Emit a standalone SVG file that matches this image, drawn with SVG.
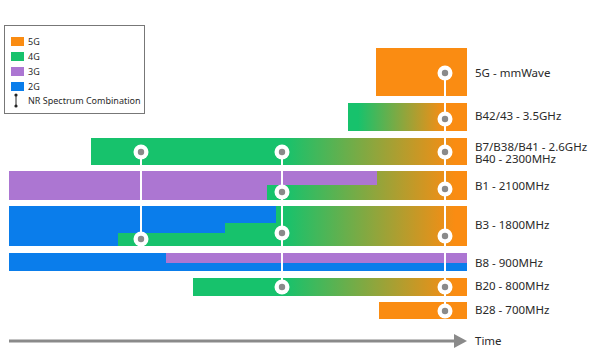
<svg xmlns="http://www.w3.org/2000/svg" width="592" height="359" viewBox="0 0 592 359">
<defs>
<linearGradient id="g1" gradientUnits="userSpaceOnUse" x1="285" y1="0" x2="455" y2="0">
<stop offset="0" stop-color="#17C26C"/><stop offset="1" stop-color="#FA8C12"/>
</linearGradient>
<linearGradient id="g2" gradientUnits="userSpaceOnUse" x1="358" y1="0" x2="445" y2="0">
<stop offset="0" stop-color="#17C26C"/><stop offset="1" stop-color="#FA8C12"/>
</linearGradient>
<g id="mk"><circle r="7.5" fill="#fff"/><circle r="3.2" fill="#8A8A8A"/></g>
</defs>
<style>
.o{fill:#FA8C12}.gr{fill:#17C26C}.p{fill:#AC76D2}.b{fill:#0A7DEB}
.t{font-family:"Noto Sans","DejaVu Sans",sans-serif;font-size:11.5px;fill:#2a2a2a}
.lt{font-family:"Noto Sans","DejaVu Sans",sans-serif;font-size:9px;fill:#2a2a2a}
.vl{stroke:#fff;stroke-width:2;fill:none}
</style>
<rect width="592" height="359" fill="#fff"/>
<g id="legend">
<rect x="4.5" y="25.5" width="140" height="88" fill="#fff" stroke="#777" stroke-width="1"/>
<rect class="o" x="11" y="37" width="13" height="9"/>
<rect class="gr" x="11" y="52" width="13" height="9"/>
<rect class="p" x="11" y="67" width="13" height="9"/>
<rect class="b" x="11" y="82" width="13" height="9"/>
<line x1="16" y1="95" x2="16" y2="106" stroke="#222" stroke-width="1"/>
<circle cx="16" cy="95" r="1.6" fill="#222"/><circle cx="16" cy="106" r="1.6" fill="#222"/>
<text class="lt" x="28" y="45">5G</text>
<text class="lt" x="28" y="60">4G</text>
<text class="lt" x="28" y="75">3G</text>
<text class="lt" x="28" y="90">2G</text>
<text class="lt" x="28" y="104">NR Spectrum Combination</text>
</g>
<g id="bar-5g">
<rect class="o" x="376" y="48" width="91" height="48"/>
<text class="t" x="475" y="77">5G - mmWave</text>
</g>
<g id="bar-b42">
<rect fill="url(#g2)" x="348" y="103" width="97" height="28"/>
<rect class="o" x="445" y="103" width="22" height="28"/>
<text class="t" x="475" y="120">B42/43 - 3.5GHz</text>
</g>
<g id="bar-b7">
<rect fill="url(#g1)" x="91" y="138" width="376" height="27"/>
<text class="t" x="475" y="150.5">B7/B38/B41 - 2.6GHz</text>
<text class="t" x="475" y="162.5">B40 - 2300MHz</text>
</g>
<g id="bar-b1">
<rect fill="url(#g1)" x="9" y="171" width="458" height="29"/>
<rect class="p" x="9" y="171" width="258" height="29"/>
<rect class="p" x="267" y="171" width="110" height="14"/>
<text class="t" x="475" y="190">B1 - 2100MHz</text>
</g>
<g id="bar-b3">
<rect fill="url(#g1)" x="9" y="206" width="458" height="40"/>
<path class="b" d="M9 206H276V223H225V233H118V246H9Z"/>
<text class="t" x="475" y="229">B3 - 1800MHz</text>
</g>
<g id="bar-b8">
<rect class="b" x="9" y="253" width="458" height="18"/>
<rect class="p" x="166" y="253" width="301" height="10"/>
<text class="t" x="475" y="267">B8 - 900MHz</text>
</g>
<g id="bar-b20">
<rect fill="url(#g1)" x="193" y="278" width="274" height="18"/>
<text class="t" x="475" y="290">B20 - 800MHz</text>
</g>
<g id="bar-b28">
<rect class="o" x="379" y="302" width="88" height="17"/>
<text class="t" x="475" y="314">B28 - 700MHz</text>
</g>
<g id="connectors">
<line class="vl" x1="141" y1="151" x2="141" y2="238"/>
<line class="vl" x1="282" y1="151" x2="282" y2="287"/>
<line class="vl" x1="445" y1="73" x2="445" y2="311"/>
</g>
<g id="markers">
<use href="#mk" x="445" y="73"/>
<use href="#mk" x="445" y="119"/>
<use href="#mk" x="141" y="152"/>
<use href="#mk" x="282" y="152"/>
<use href="#mk" x="445" y="152"/>
<use href="#mk" x="282" y="192"/>
<use href="#mk" x="445" y="189"/>
<use href="#mk" x="141" y="239"/>
<use href="#mk" x="282" y="233"/>
<use href="#mk" x="445" y="236"/>
<use href="#mk" x="282" y="287"/>
<use href="#mk" x="445" y="287"/>
<use href="#mk" x="445" y="311"/>
</g>
<g id="time-axis">
<line x1="9" y1="341" x2="456" y2="341" stroke="#8A8A8A" stroke-width="3"/>
<path d="M454 334L467 341L454 348Z" fill="#8A8A8A"/>
<text class="t" x="475" y="345">Time</text>
</g>
</svg>
